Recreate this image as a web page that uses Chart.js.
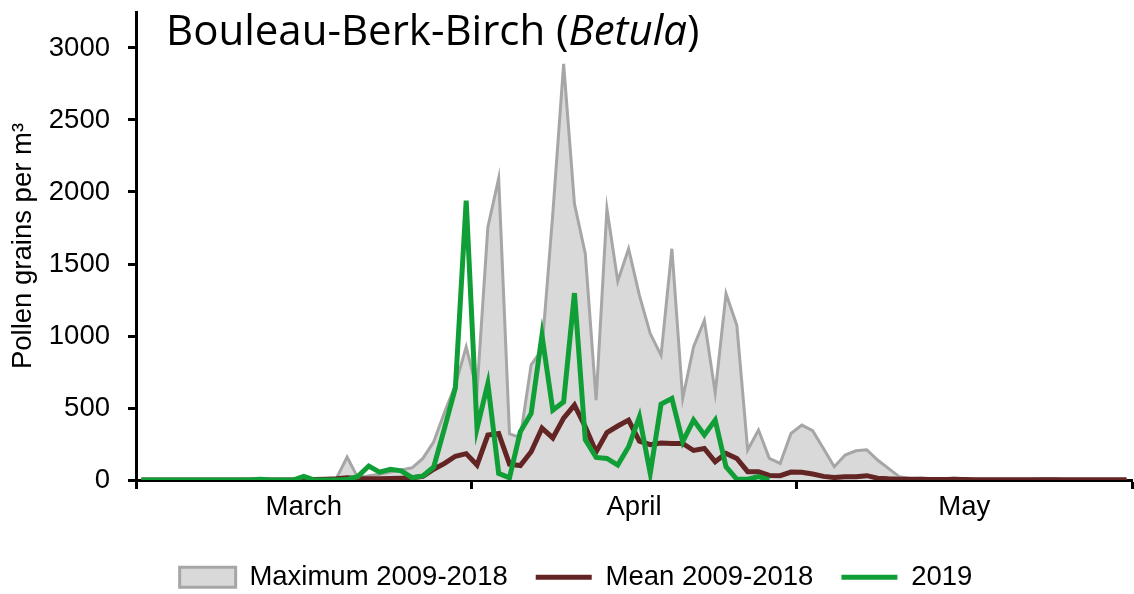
<!DOCTYPE html>
<html>
<head>
<meta charset="utf-8">
<script src="https://cdn.jsdelivr.net/npm/chart.js@4.4.1/dist/chart.umd.min.js"></script>
<style>
    html, body { margin: 0; padding: 0; background: #fff; }
    #wrap { position: relative; width: 1134px; height: 594px; }
    #title {
        position: absolute; left: 166px; top: 0px;
        font: 42px 'Open Sans', 'Liberation Sans', Arial, sans-serif; color: #000; white-space: nowrap;
    }
</style>
</head>
<body>
<div id="wrap">
    <canvas id="pollenChart" width="1134" height="594"></canvas>
    <div id="title">Bouleau-Berk-Birch (<i>Betula</i>)</div>
</div>
<script>
// Daily birch pollen counts, 1 March - 31 May (92 days)
const monthNames = ['March', 'April', 'May'];
const monthStarts = [0, 31, 61, 92];
const yTicks = [0, 500, 1000, 1500, 2000, 2500, 3000];

const maxValues = [
    0, 0, 0, 0, 0, 0, 0, 0, 0, 0,
    0, 0, 0, 0, 0, 0, 0, 0, 10, 160,
    15, 30, 40, 55, 70, 85, 150, 265, 470, 660,
    925, 620, 1755, 2095, 320, 295, 800, 905, 1850, 2890,
    1918, 1571, 554, 1883, 1381, 1606, 1282, 1017, 866, 1606,
    566, 924, 1109, 605, 1294, 1074, 208, 347, 150, 115,
    323, 381, 342, 219, 92, 173, 203, 210, 139, 81,
    23, 10, 16, 8, 5, 16, 8, 5, 5, 5,
    5, 5, 5, 8, 10, 5, 3, 3, 3, 3,
    3, 3
];

const meanValues = [
    0, 0, 0, 0, 0, 0, 0, 0, 0, 0,
    0, 0, 0, 0, 0, 3, 3, 5, 8, 15,
    10, 8, 8, 10, 12, 15, 25, 75, 115, 165,
    183, 104, 312, 323, 110, 100, 196, 360, 292, 430,
    520, 370, 195, 330, 375, 416, 270, 245, 257, 254,
    254, 205, 219, 127, 185, 150, 58, 58, 32, 30,
    55, 53, 42, 25, 17, 22, 23, 30, 13, 8,
    5, 5, 4, 4, 3, 3, 3, 2, 2, 2,
    2, 2, 2, 2, 2, 2, 2, 2, 2, 2,
    2, 2
];

const values2019 = [
    0, 0, 0, 0, 0, 0, 0, 0, 0, 0,
    0, 5, 0, 0, 0, 25, 0, 0, 0, 3,
    25, 97, 55, 74, 64, 16, 28, 90, 360, 640,
    1940, 358, 670, 46, 15, 335, 462, 1005, 485, 543,
    1298, 280, 157, 150, 104, 231, 439, 46, 527, 566,
    265, 416, 312, 416, 92, 5, 5, 23, 0
];

// one point per day, placed in the middle of its day
function toPoints(values) {
    return values.map((v, i) => ({ x: i + 0.5, y: v }));
}

const monthMids = monthNames.map((m, i) => (monthStarts[i] + monthStarts[i + 1]) / 2);
const xTickValues = monthStarts.concat(monthMids).sort((a, b) => a - b);

const baseFont = { family: "'Liberation Sans', Arial, sans-serif", size: 27.5 };

// nudge the legend row a little to the right, like the original
const legendShift = {
    id: 'legendShift',
    afterLayout(chart) {
        if (!chart.legend) return;
        chart.legend.left += 10;
        chart.legend.right += 10;
    }
};

new Chart(document.getElementById('pollenChart'), {
    type: 'line',
    data: {
        datasets: [
            {
                label: 'Maximum 2009-2018',
                data: toPoints(maxValues),
                borderColor: '#a6a6a6',
                backgroundColor: '#d9d9d9',
                borderWidth: 3,
                fill: 'origin',
                pointRadius: 0,
                tension: 0,
                order: 3,
                pointStyle: 'rect'
            },
            {
                label: 'Mean 2009-2018',
                data: toPoints(meanValues),
                borderColor: '#632523',
                backgroundColor: '#632523',
                borderWidth: 5,
                fill: false,
                pointRadius: 0,
                tension: 0,
                order: 2,
                pointStyle: 'line'
            },
            {
                label: '2019',
                data: toPoints(values2019),
                borderColor: '#109e36',
                backgroundColor: '#109e36',
                borderWidth: 5,
                fill: false,
                pointRadius: 0,
                tension: 0,
                order: 1,
                pointStyle: 'line'
            }
        ]
    },
    plugins: [legendShift],
    options: {
        responsive: false,
        devicePixelRatio: 1,
        animation: false,
        layout: {
            padding: { top: 12, right: 2, left: 0, bottom: -7 }
        },
        plugins: {
            tooltip: { enabled: false },
            legend: {
                position: 'bottom',
                labels: {
                    usePointStyle: true,
                    pointStyleWidth: 56,
                    boxHeight: 20,
                    padding: 28,
                    color: '#000',
                    font: baseFont,
                    sort: (a, b) => a.datasetIndex - b.datasetIndex
                }
            }
        },
        scales: {
            x: {
                type: 'linear',
                min: 0,
                max: 92,
                afterBuildTicks: scale => {
                    scale.ticks = xTickValues.map(v => ({ value: v }));
                },
                afterFit: scale => {
                    scale.height = 55.5;
                    scale.paddingLeft = 0;
                    scale.paddingRight = 0;
                },
                border: { display: true, color: '#000', width: 3 },
                grid: {
                    drawOnChartArea: false,
                    drawTicks: true,
                    tickLength: 9,
                    tickWidth: 3,
                    tickColor: ctx => monthStarts.includes(ctx.tick.value) ? '#000' : 'rgba(0,0,0,0)'
                },
                ticks: {
                    autoSkip: false,
                    maxRotation: 0,
                    padding: 2,
                    color: '#000',
                    font: baseFont,
                    callback: value => {
                        const idx = monthMids.indexOf(value);
                        return idx >= 0 ? monthNames[idx] : '';
                    }
                }
            },
            y: {
                min: 0,
                max: 3250,
                afterBuildTicks: scale => {
                    scale.ticks = yTicks.map(v => ({ value: v }));
                },
                afterFit: scale => {
                    scale.width = 136;
                    scale.paddingTop = 0;
                    scale.paddingBottom = 0;
                },
                border: { display: true, color: '#000', width: 3 },
                grid: {
                    drawOnChartArea: false,
                    drawTicks: true,
                    tickLength: 8,
                    tickWidth: 3,
                    tickColor: '#000'
                },
                ticks: {
                    padding: 18,
                    color: '#000',
                    font: baseFont,
                    callback: value => String(value)
                },
                title: {
                    display: true,
                    text: 'Pollen grains per m³',
                    color: '#000',
                    font: baseFont,
                    padding: { top: 7, bottom: 0 }
                }
            }
        }
    }
});
</script>
</body>
</html>
